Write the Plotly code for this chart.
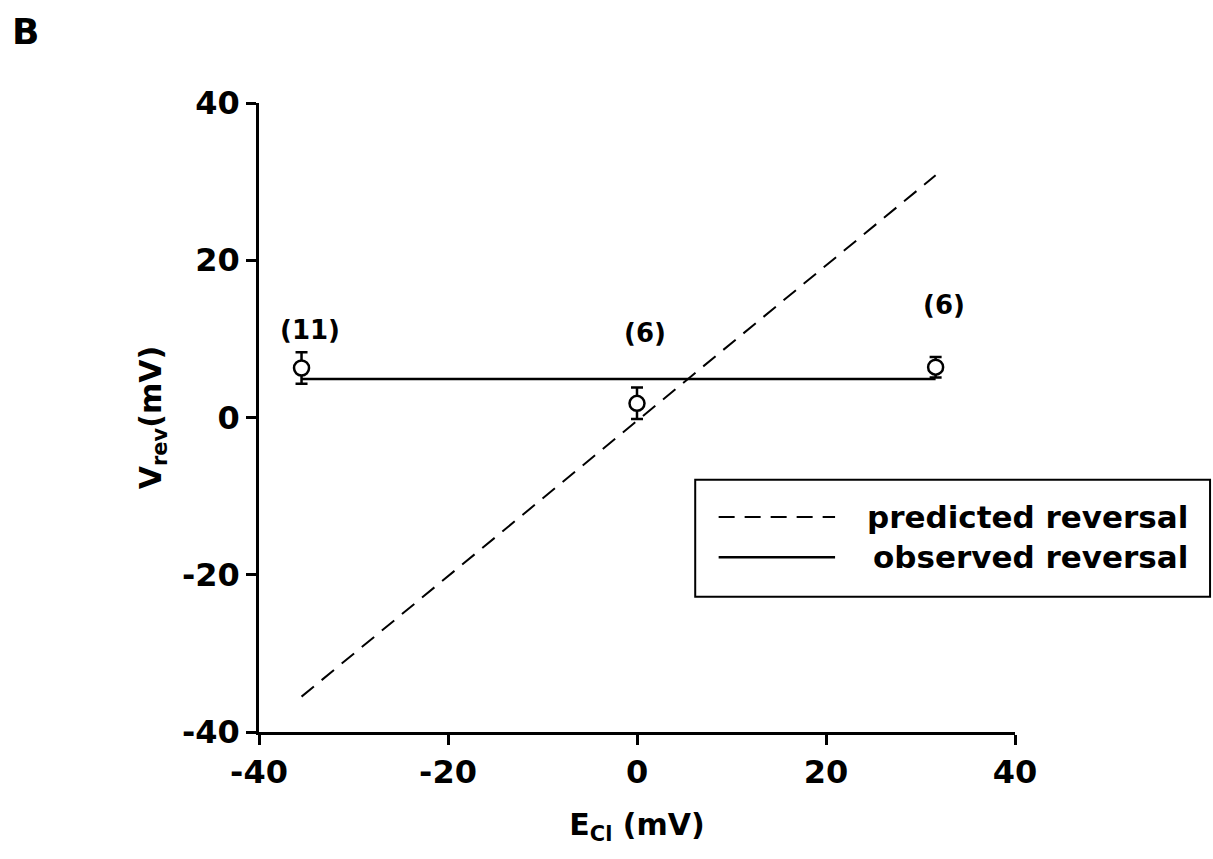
import plotly.graph_objects as go

# Data
e_cl = [-35.5, 0.0, 31.6]
v_rev = [6.3, 1.8, 6.4]
v_err = [2.0, 2.0, 1.3]
n_labels = ["(11)", "(6)", "(6)"]
n_label_y = [11.1, 10.8, 14.3]
observed_v = 4.9
pred_x = [-35.5, 31.6]
pred_y = [-35.5, 30.8]
x_ticks = [-40, -20, 0, 20, 40]
y_ticks = [-40, -20, 0, 20, 40]

FONT = "DejaVu Sans, sans-serif"
DASH = "16px,10px"

fig = go.Figure()

fig.add_trace(go.Scatter(x=pred_x, y=pred_y, mode="lines",
                         line=dict(color="black", width=2, dash=DASH),
                         showlegend=False, hoverinfo="skip"))
fig.add_trace(go.Scatter(x=[e_cl[0], e_cl[-1]], y=[observed_v, observed_v], mode="lines",
                         line=dict(color="black", width=2.5),
                         showlegend=False, hoverinfo="skip"))
fig.add_trace(go.Scatter(x=e_cl, y=v_rev, mode="markers",
                         marker=dict(symbol="circle", size=15, color="white",
                                     line=dict(color="black", width=2.5)),
                         error_y=dict(type="data", array=v_err, visible=True,
                                      color="black", thickness=2.5, width=6),
                         showlegend=False))

for x, y, t in zip(e_cl, n_label_y, n_labels):
    fig.add_annotation(x=x, y=y, text="<b>%s</b>" % t, showarrow=False, xshift=8,
                       font=dict(family=FONT, size=26, color="black"))

# Custom legend (paper coords relative to plot area)
fig.add_shape(type="rect", xref="paper", yref="paper",
              x0=0.577, x1=1.258, y0=0.215, y1=0.401,
              line=dict(color="black", width=2), fillcolor="white")
fig.add_shape(type="line", xref="paper", yref="paper",
              x0=0.608, x1=0.762, y0=0.342, y1=0.342,
              line=dict(color="black", width=2, dash=DASH))
fig.add_shape(type="line", xref="paper", yref="paper",
              x0=0.608, x1=0.762, y0=0.278, y1=0.278,
              line=dict(color="black", width=2.5))
fig.add_annotation(xref="paper", yref="paper", x=1.232, y=0.342, xanchor="right",
                   yanchor="middle", text="<b>predicted reversal</b>", showarrow=False,
                   font=dict(family=FONT, size=31, color="black"))
fig.add_annotation(xref="paper", yref="paper", x=1.232, y=0.278, xanchor="right",
                   yanchor="middle", text="<b>observed reversal</b>", showarrow=False,
                   font=dict(family=FONT, size=31, color="black"))

fig.add_annotation(xref="paper", yref="paper", x=-0.329, y=1.113, xanchor="left",
                   yanchor="middle", text="<b>B</b>", showarrow=False,
                   font=dict(family=FONT, size=36, color="black"))

fig.update_layout(
    width=1213, height=859,
    margin=dict(l=259, r=198, t=103, b=127),
    plot_bgcolor="white", paper_bgcolor="white",
    font=dict(family=FONT, color="black"),
)
fig.update_xaxes(range=[-40, 40], tickvals=x_ticks, ticktext=["<b>%d</b>" % v for v in x_ticks],
                 showgrid=False, zeroline=False, showline=True, linecolor="black", linewidth=2.5,
                 ticks="outside", ticklen=10, tickwidth=2.5, tickcolor="black",
                 tickfont=dict(family=FONT, size=32, color="black"),
                 title=dict(text="<b>E<sub>Cl</sub> (mV)</b>", font=dict(family=FONT, size=30), standoff=24))
fig.update_yaxes(range=[-40, 40], tickvals=y_ticks, ticktext=["<b>%d</b>" % v for v in y_ticks],
                 showgrid=False, zeroline=False, showline=True, linecolor="black", linewidth=2.5,
                 ticks="outside", ticklen=10, tickwidth=2.5, tickcolor="black",
                 tickfont=dict(family=FONT, size=32, color="black"),
                 title=dict(text="<b>V<sub>rev</sub>(mV)</b>", font=dict(family=FONT, size=30), standoff=12))

fig.write_html("out.html")
